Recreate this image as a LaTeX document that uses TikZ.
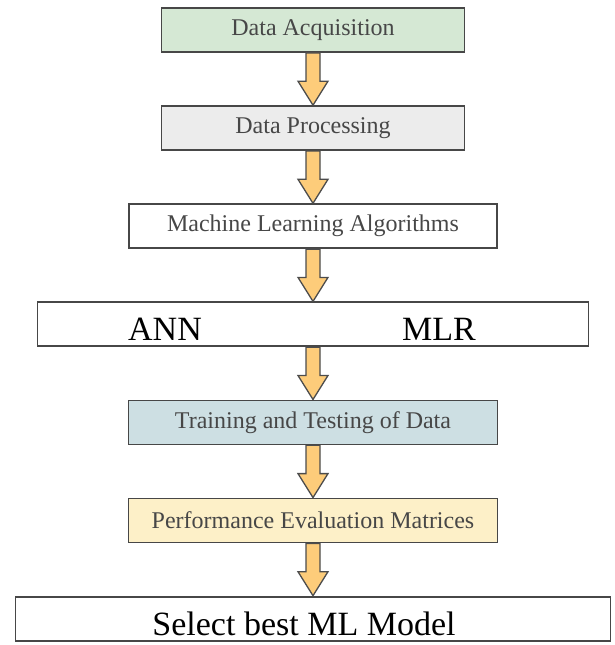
\documentclass[tikz,border=0pt]{standalone}
\usepackage{fontspec}
\setmainfont{Liberation Serif}
\usetikzlibrary{positioning, calc}
\definecolor{acqgreen}{RGB}{213,232,212}
\definecolor{procgray}{RGB}{236,236,236}
\definecolor{trainblue}{RGB}{205,223,227}
\definecolor{evalyellow}{RGB}{253,240,200}
\definecolor{arrowfill}{RGB}{253,204,122}
\tikzstyle{stage}=[draw=black!72, line width=1.8pt, minimum height=44pt, inner sep=0pt,
                   font=\fontsize{24}{28}\selectfont, text=black!72]
\tikzstyle{bigtxt}=[font=\fontsize{34}{40}\selectfont, text=black, inner sep=0pt]
\tikzstyle{flow}=[draw=black!70, line width=1.3pt, fill=arrowfill]
% fat downward arrow from one stage to the next
\newcommand{\flowarrow}[2]{%
  \draw[flow] let \p1=(#1.south), \p2=(#2.north) in
    (\x1-7pt,\y1) -- (\x1-7pt,\y2+24pt) -- (\x1-15pt,\y2+24pt) -- (\x1,\y2)
    -- (\x1+15pt,\y2+24pt) -- (\x1+7pt,\y2+24pt) -- (\x1+7pt,\y1) -- cycle;}

\begin{document}
\begin{tikzpicture}[x=1pt, y=1pt, node distance=52.3pt]
    \useasboundingbox (0,0) rectangle (614,-645);
    \node[stage, fill=acqgreen, minimum width=303pt] (acq) at (313,-30) {Data Acquisition};
    \node[stage, fill=procgray, minimum width=303pt, below=of acq] (proc) {Data Processing};
    \node[stage, fill=white, minimum width=368pt, below=of proc] (mlalg) {Machine Learning Algorithms};
    \node[stage, fill=white, minimum width=551pt, below=of mlalg] (mods) {};
    \node[bigtxt] (ann) at ([xshift=-148pt, yshift=-5pt]mods.center) {ANN};
    \node[bigtxt] (mlr) at ([xshift=126pt, yshift=-5pt]mods.center) {MLR};
    \node[stage, fill=trainblue, minimum width=369pt, below=of mods] (train) {Training and Testing of Data};
    \node[stage, fill=evalyellow, minimum width=369pt, below=of train] (eval) {Performance Evaluation Matrices};
    \node[stage, bigtxt, fill=white, minimum width=595pt, minimum height=44pt,
          text height=33pt, text depth=0pt, below=of eval] (best) {Select best ML Model\hspace*{18pt}};
    \flowarrow{acq}{proc} \flowarrow{proc}{mlalg}
    \flowarrow{mlalg}{mods} \flowarrow{mods}{train}
    \flowarrow{train}{eval} \flowarrow{eval}{best}
  \end{tikzpicture}
\end{document}
